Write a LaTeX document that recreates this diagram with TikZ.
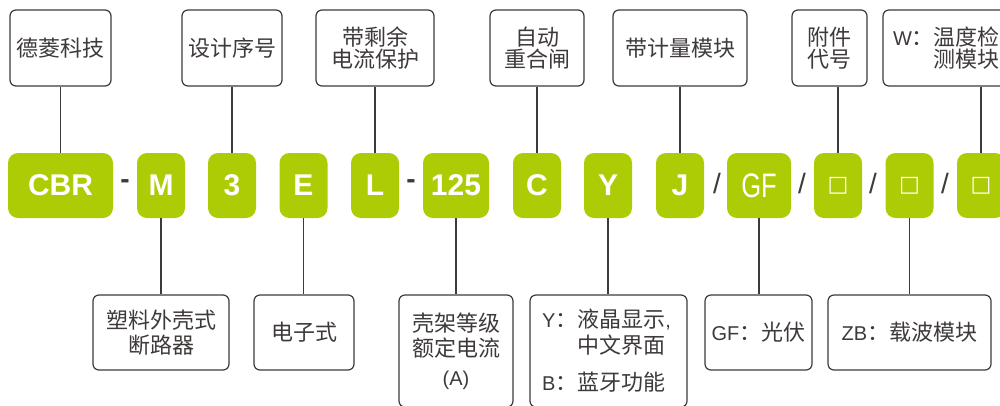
\documentclass[tikz,border=0pt]{standalone}
\usepackage{fontspec}
\setmainfont{Liberation Sans}
\newfontfamily\cjk{Noto Sans CJK SC}
\newfontfamily\gffont[FakeStretch=0.75]{Liberation Sans}
\newfontfamily\dvs{DejaVu Sans}
\definecolor{lime}{RGB}{174,204,6}
\definecolor{ink}{RGB}{62,58,57}
\newcommand{\lat}[1]{{\rmfamily\mdseries\fontsize{20}{20}\selectfont #1}}
\begin{document}
\begin{tikzpicture}[x=1pt,y=-1pt,
  lbl/.style={draw=ink, line width=1.2pt, rounded corners=6pt, inner sep=0pt,
    text=ink, font=\cjk\fontsize{22}{22}\selectfont, align=center},
  lblb/.style={lbl, font=\cjk\fontsize{22}{25}\selectfont},
  code/.style={fill=lime, rounded corners=10pt, minimum height=65pt,
    minimum width=48pt, inner sep=0pt, text=white,
    font=\bfseries\fontsize{30}{30}\selectfont},
  blank/.style={code, font=\dvs\fontsize{22}{22}\selectfont},
  conn/.style={draw=ink, line width=1.3pt},
  sepr/.style={text=ink, inner sep=0pt, font=\fontsize{28}{28}\selectfont}]
\useasboundingbox (0,0) rectangle (1000,405);
\fill[white] (0,0) rectangle (1000,405);

% top boxes
\node[lbl, minimum width=101pt, minimum height=76pt] (t1) at (60.5,48) {德菱科技};
\node[lbl, minimum width=100pt, minimum height=76pt] (t2) at (232,48) {设计序号};
\node[lbl, minimum width=118pt, minimum height=76pt] (t3) at (375,48) {带剩余\\电流保护};
\node[lbl, minimum width=94pt, minimum height=76pt] (t4) at (537,48) {自动\\重合闸};
\node[lbl, minimum width=134pt, minimum height=76pt] (t5) at (680,48) {带计量模块};
\node[lbl, minimum width=75pt, minimum height=76pt] (t6) at (829.5,48) {附件\\代号};
\node[lbl, minimum width=127pt, minimum height=76pt, text width=107pt, align=left] (t7) at (946.5,48)
  {\lat{W}：温度检\\\hphantom{\lat{W}：}测模块};

% code boxes
\node[code, minimum width=105pt] (g1) at (60.5,185.5) {CBR};
\node[code] (g2) at (161,185.5) {M};
\node[code] (g3) at (232,185.5) {3};
\node[code] (g4) at (303.5,185.5) {E};
\node[code] (g5) at (375,185.5) {L};
\node[code, minimum width=66pt] (g6) at (456,185.5) {125};
\node[code] (g7) at (537,185.5) {C};
\node[code] (g8) at (608,185.5) {Y};
\node[code] (g9) at (680,185.5) {J};
\node[code, minimum width=64pt, font=\gffont\fontsize{34}{34}\selectfont] (g10) at (759,185.5) {GF};
\node[blank] (g11) at (838,185.5) {□};
\node[blank] (g12) at (909.5,185.5) {□};
\node[blank] (g13) at (981,185.5) {□};

% separators
\node[sepr, font=\bfseries\fontsize{28}{28}\selectfont] (s1) at (125,184) {-};
\node[sepr, font=\bfseries\fontsize{28}{28}\selectfont] (s2) at (411,184) {-};
\node[sepr] (s3) at (717,183) {/};
\node[sepr] (s4) at (802,183) {/};
\node[sepr] (s5) at (873,183) {/};
\node[sepr] (s6) at (945,183) {/};

% bottom boxes
\node[lblb, minimum width=136pt, minimum height=75pt] (b1) at (161,332.5) {塑料外壳式\\断路器};
\node[lblb, minimum width=100pt, minimum height=75pt] (b2) at (304,332.5) {电子式};
\node[lblb, minimum width=114pt, minimum height=112pt] (b3) at (456,351) {壳架等级\\额定电流\\[4pt]\lat{(A)}};
\node[lbl, font=\cjk\fontsize{22}{26}\selectfont, minimum width=157pt, minimum height=112pt,
  text width=133pt, align=left] (b4) at (608.5,351)
  {\lat{Y}：液晶显示\lat{,}\\\hphantom{\lat{Y}：}中文界面\\[11pt]\lat{B}：蓝牙功能};
\node[lblb, minimum width=107pt, minimum height=75pt] (b5) at (758.5,332.5) {\lat{GF}：光伏};
\node[lblb, minimum width=163pt, minimum height=75pt] (b6) at (909.5,332.5) {\lat{ZB}：载波模块};

% connectors top
\foreach \g/\t in {g1/t1,g3/t2,g5/t3,g7/t4,g9/t5,g11/t6,g13/t7}
  \draw[conn] (\g.north) -- (\g.north |- \t.south);
% connectors bottom
\foreach \g/\b in {g2/b1,g4/b2,g6/b3,g8/b4,g10/b5,g12/b6}
  \draw[conn] (\g.south) -- (\g.south |- \b.north);
\end{tikzpicture}
\end{document}
